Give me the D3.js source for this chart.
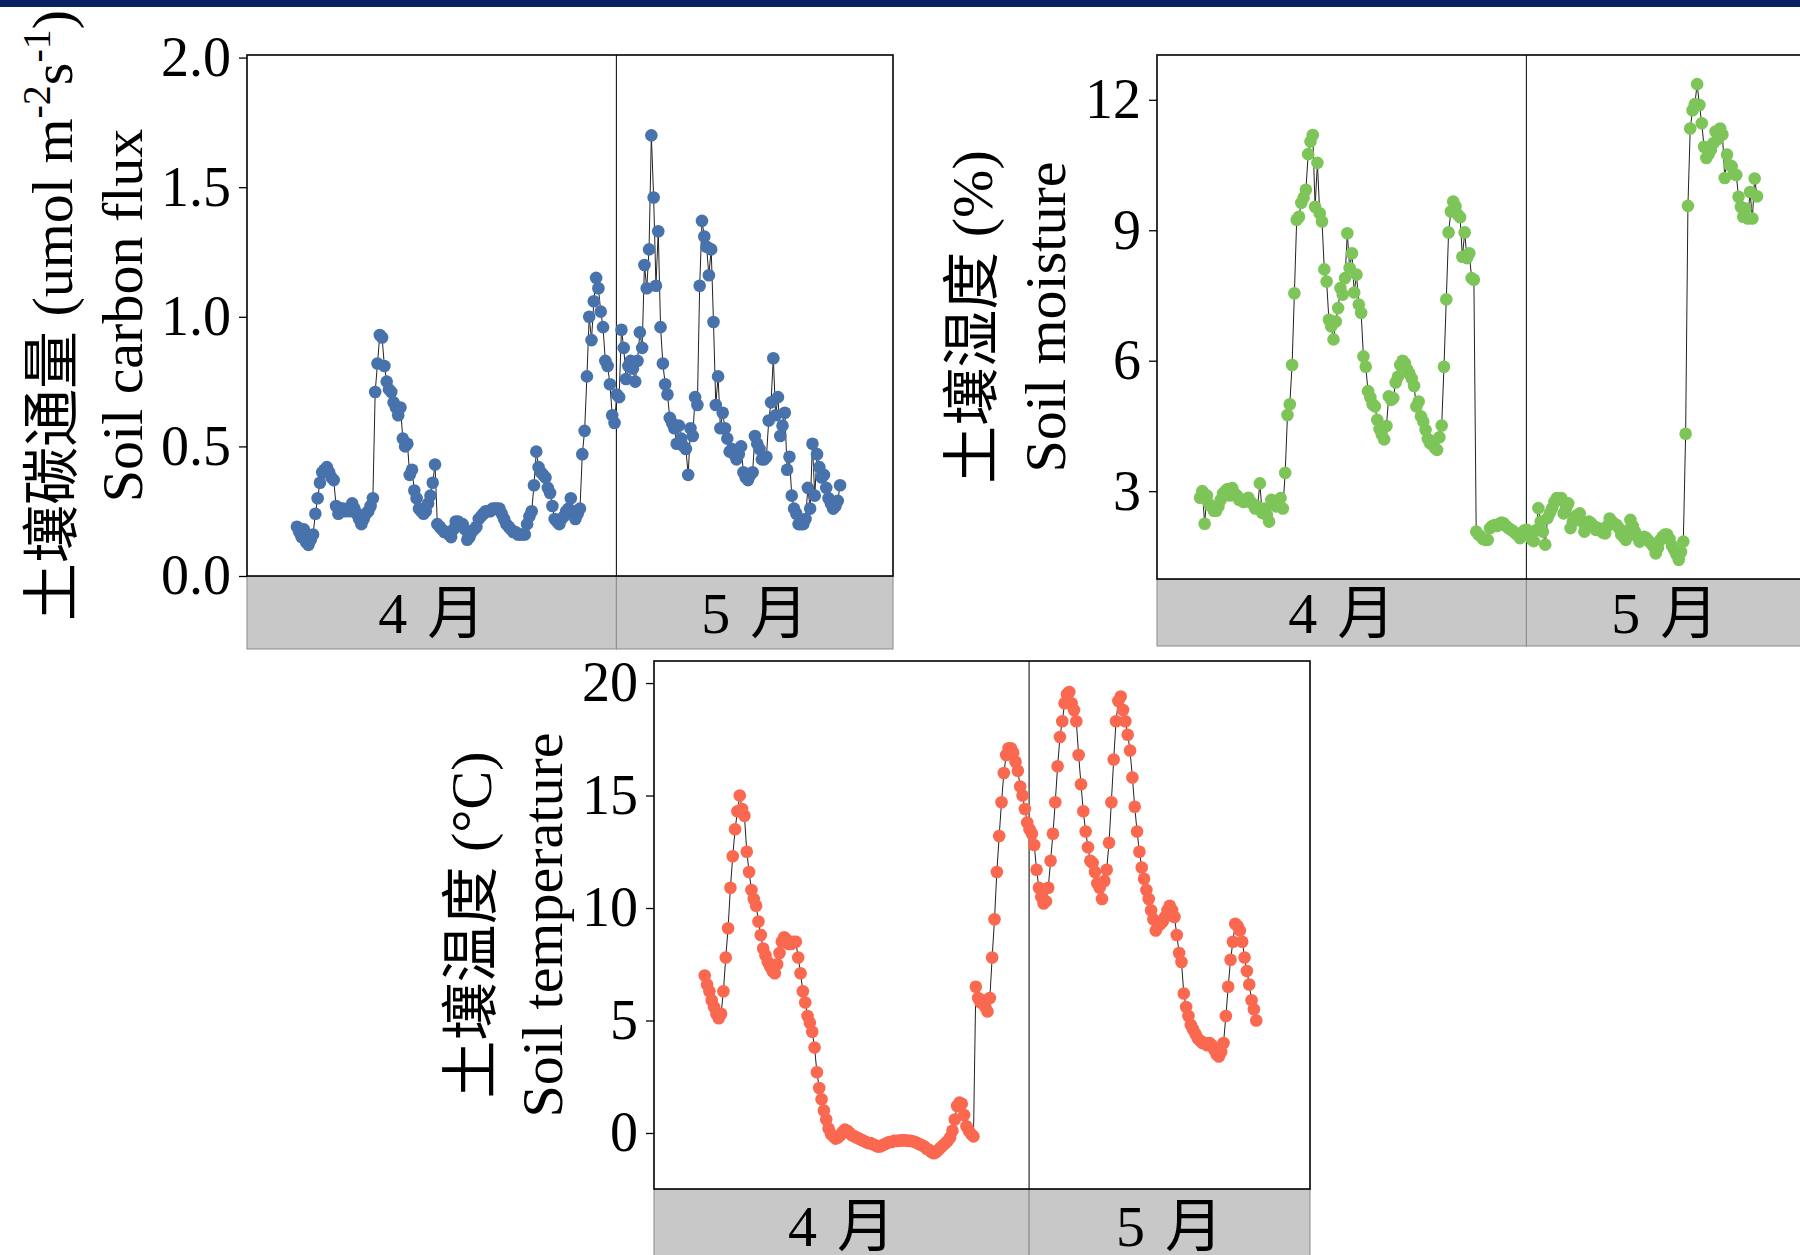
<!DOCTYPE html>
<html>
<head>
<meta charset="utf-8">
<script src="https://cdn.jsdelivr.net/npm/d3@7"></script>
<style>
body { margin: 0; background: #fff; }
svg { display: block; }
text { font-family: "Liberation Serif", "Times New Roman", "Noto Sans CJK SC", serif; fill: #000; }
</style>
</head>
<body>
<div id="chart"></div>
<script>
// samples are every 4 h, index 0 = first flux/temperature reading
const months = ["4", "5"]
const monthUnit = "月"
const monthBreak = 138.8          // 5 月 starts between sample 138 and 139
const xDomain = [-21.7, 259.0]

// 土壤碳通量 Soil carbon flux (umol m-2 s-1), samples 0..236
const flux = [
    0.19, 0.17, 0.15, 0.18, 0.13, 0.12, 0.14, 0.16, 0.24, 0.30,
    0.36, 0.40, 0.41, 0.42, 0.40, 0.38, 0.37, 0.27, 0.24, 0.26,
    0.26, 0.25, 0.26, 0.25, 0.28, 0.26, 0.24, 0.22, 0.20, 0.22,
    0.24, 0.25, 0.27, 0.30, 0.71, 0.82, 0.93, 0.92, 0.81, 0.75,
    0.72, 0.71, 0.67, 0.65, 0.62, 0.65, 0.53, 0.50, 0.51, 0.39,
    0.41, 0.33, 0.30, 0.26, 0.25, 0.24, 0.25, 0.28, 0.31, 0.36,
    0.43, 0.20, 0.19, 0.18, 0.17, 0.17, 0.16, 0.15, 0.18, 0.21,
    0.21, 0.20, 0.20, 0.18, 0.14, 0.15, 0.17, 0.18, 0.19, 0.22,
    0.23, 0.24, 0.25, 0.25, 0.25, 0.26, 0.26, 0.26, 0.26, 0.24,
    0.22, 0.20, 0.19, 0.18, 0.17, 0.17, 0.16, 0.16, 0.16, 0.16,
    0.20, 0.23, 0.25, 0.35, 0.48, 0.42, 0.40, 0.39, 0.38, 0.34,
    0.32, 0.27, 0.22, 0.21, 0.20, 0.22, 0.23, 0.25, 0.26, 0.30,
    0.25, 0.22, 0.24, 0.26, 0.47, 0.56, 0.77, 1.00, 0.91, 1.06,
    1.15, 1.11, 1.02, 0.96, 0.83, 0.81, 0.74, 0.62, 0.59, 0.70,
    0.69, 0.95, 0.88, 0.76, 0.81, 0.83, 0.80, 0.75, 0.83, 0.94,
    0.88, 1.20, 1.11, 1.26, 1.70, 1.46, 1.12, 1.33, 0.96, 0.82,
    0.74, 0.70, 0.61, 0.59, 0.57, 0.51, 0.58, 0.53, 0.50, 0.49,
    0.39, 0.57, 0.54, 0.69, 0.66, 1.12, 1.37, 1.31, 1.27, 1.16,
    1.26, 0.98, 0.66, 0.77, 0.57, 0.63, 0.57, 0.53, 0.48, 0.49,
    0.47, 0.45, 0.47, 0.50, 0.40, 0.38, 0.37, 0.39, 0.40, 0.54,
    0.51, 0.49, 0.45, 0.45, 0.46, 0.60, 0.67, 0.84, 0.62, 0.69,
    0.54, 0.58, 0.63, 0.41, 0.46, 0.31, 0.26, 0.24, 0.20, 0.20,
    0.20, 0.22, 0.34, 0.26, 0.51, 0.31, 0.47, 0.42, 0.38, 0.39,
    0.34, 0.30, 0.28, 0.26, 0.27, 0.29, 0.35
]

// 土壤湿度 Soil moisture (%), samples -3..239
const moistureStart = -3
const moisture = [
    2.85, 3.00, 2.25, 2.90, 2.70, 2.65, 2.55, 2.55, 2.65, 2.80,
    2.95, 3.00, 3.05, 2.90, 3.07, 2.95, 2.90, 2.80, 2.80, 2.75,
    2.80, 2.85, 2.75, 2.70, 2.60, 2.65, 3.18, 2.50, 2.60, 2.45,
    2.30, 2.80, 2.70, 2.65, 2.70, 2.84, 2.60, 3.42, 4.75, 5.00,
    5.90, 7.55, 9.24, 9.31, 9.63, 9.75, 9.93, 10.75, 11.04, 11.19,
    9.54, 10.55, 9.39, 9.20, 8.10, 7.82, 6.94, 6.79, 6.49, 6.90,
    7.21, 7.67, 7.52, 7.90, 8.93, 8.13, 8.47, 7.57, 7.98, 7.29,
    7.10, 6.10, 5.86, 5.30, 5.16, 5.00, 4.95, 4.64, 4.43, 4.30,
    4.19, 4.50, 5.18, 5.10, 5.14, 5.50, 5.63, 5.90, 6.00, 5.94,
    5.80, 5.70, 5.59, 5.42, 4.95, 5.06, 4.72, 4.60, 4.41, 4.20,
    4.10, 4.14, 4.00, 3.95, 4.24, 4.51, 5.86, 7.41, 8.95, 9.43,
    9.66, 9.55, 9.36, 9.30, 8.39, 8.95, 8.36, 8.47, 7.90, 7.86,
    2.07, 2.00, 1.96, 1.90, 1.88, 1.88, 2.15, 2.20, 2.22, 2.20,
    2.25, 2.28, 2.26, 2.20, 2.15, 2.12, 2.08, 2.03, 2.00, 1.92,
    2.05, 2.10, 2.11, 2.00, 1.90, 1.85, 2.10, 2.61, 2.30, 2.07,
    1.77, 2.38, 2.50, 2.61, 2.75, 2.84, 2.80, 2.84, 2.49, 2.60,
    2.72, 2.15, 2.30, 2.41, 2.45, 2.49, 2.30, 2.07, 2.20, 2.30,
    2.26, 2.20, 2.11, 2.15, 2.10, 2.05, 2.03, 2.20, 2.37, 2.30,
    2.25, 2.22, 2.15, 2.00, 1.95, 1.88, 2.10, 2.34, 2.20, 2.07,
    1.95, 1.84, 1.90, 1.95, 1.92, 1.85, 1.80, 1.73, 1.57, 1.70,
    1.88, 1.95, 2.00, 2.00, 1.90, 1.75, 1.65, 1.55, 1.42, 1.60,
    1.84, 4.32, 9.56, 11.34, 11.76, 11.90, 12.36, 11.88, 11.46, 10.92,
    10.66, 10.75, 10.85, 11.00, 11.27, 11.10, 11.34, 11.20, 10.20, 10.74,
    10.50, 10.47, 10.30, 10.27, 9.77, 9.54, 9.31, 9.50, 9.27, 9.88,
    9.27, 10.19, 9.78
]

// 土壤温度 Soil temperature (°C), samples 0..236
const temperature = [
    7.0, 6.6, 6.3, 5.9, 5.6, 5.3, 5.1, 5.3, 6.3, 7.8,
    9.1, 10.9, 12.3, 13.5, 14.3, 15.0, 14.4, 14.1, 12.5, 11.6,
    10.8, 10.4, 10.1, 9.4, 8.8, 8.2, 7.9, 7.6, 7.4, 7.2,
    7.1, 7.5, 8.0, 8.5, 8.7, 8.6, 8.4, 8.4, 8.5, 8.5,
    7.8, 7.1, 6.3, 5.8, 5.2, 4.9, 4.5, 3.8, 2.7, 2.0,
    1.5, 1.0, 0.6, 0.2, -0.05, -0.15, -0.25, -0.2, -0.1, 0.05,
    0.15, 0.1, 0.0, -0.1, -0.15, -0.2, -0.25, -0.3, -0.35, -0.4,
    -0.45, -0.45, -0.5, -0.55, -0.6, -0.6, -0.55, -0.5, -0.45, -0.4,
    -0.4, -0.35, -0.35, -0.35, -0.33, -0.33, -0.33, -0.35, -0.35, -0.37,
    -0.4, -0.45, -0.5, -0.55, -0.6, -0.7, -0.75, -0.85, -0.9, -0.85,
    -0.75, -0.65, -0.55, -0.45, -0.35, -0.2, 0.1, 0.6, 1.2, 1.35,
    1.3, 0.8, 0.3, 0.1, -0.05, -0.15, 6.5, 6.0, 5.8, 5.9,
    5.6, 5.4, 6.0, 7.8, 9.5, 11.6, 13.2, 14.7, 16.0, 16.8,
    17.1, 17.1, 16.9, 16.5, 16.1, 15.4, 15.0, 14.4, 13.8, 13.5,
    13.3, 12.8, 11.7, 10.9, 10.5, 10.2, 10.3, 10.9, 12.1, 13.3,
    14.7, 16.3, 17.6, 18.3, 19.1, 19.5, 19.6, 19.1, 18.8, 18.3,
    16.8, 15.5, 14.3, 13.4, 12.7, 12.1, 12.0, 11.6, 11.1, 10.9,
    10.4, 11.2, 11.7, 12.9, 14.7, 16.6, 18.3, 19.2, 19.4, 18.8,
    18.3, 17.7, 17.0, 15.8, 14.5, 13.4, 12.5, 11.8, 11.3, 10.8,
    10.4, 9.9, 9.5, 9.0, 9.2, 9.3, 9.4, 9.6, 9.9, 10.1,
    9.9, 9.6, 8.8, 8.0, 7.6, 6.2, 5.6, 5.2, 4.8, 4.6,
    4.4, 4.2, 4.1, 4.0, 4.0, 3.9, 4.0, 3.9, 3.7, 3.5,
    3.4, 3.6, 4.0, 5.2, 6.5, 7.7, 8.5, 9.3, 9.2, 9.0,
    8.5, 7.8, 7.2, 6.6, 5.9, 5.5, 5.0
]

const fluxTicks = [0, 0.5, 1.0, 1.5, 2.0]
const moistureTicks = [3, 6, 9, 12]
const temperatureTicks = [0, 5, 10, 15, 20]

const width = 1800
const height = 1255

const svg = d3.select("#chart").append("svg")
    .attr("width", width)
    .attr("height", height)

// dark band along the top edge
svg.append("rect")
    .attr("x", 0).attr("y", 0)
    .attr("width", width).attr("height", 7)
    .attr("fill", "#0b2161")

const panels = [
    {
        values: flux, start: 0, color: "#4872ab",
        left: 247, right: 893, top: 55, bottom: 576, strip: 73,
        yDomain: [0, 2.01], ticks: fluxTicks, fmt: d3.format(".1f"),
        t1: -175, t2: -105,
        title1: [["土壤碳通量 (umol m"], ["-2", true], ["s"], ["-1", true], [")"]],
        title2: "Soil carbon flux"
    },
    {
        values: moisture, start: moistureStart, color: "#7dc558",
        left: 1157, right: 1803, top: 55, bottom: 579, strip: 67,
        yDomain: [0.98, 13.03], ticks: moistureTicks, fmt: d3.format("d"),
        t1: -165, t2: -92,
        title1: [["土壤湿度 (%)"]],
        title2: "Soil moisture"
    },
    {
        values: temperature, start: 0, color: "#fa6850",
        left: 654, right: 1310, top: 661, bottom: 1189, strip: 73,
        yDomain: [-2.49, 20.98], ticks: temperatureTicks, fmt: d3.format("d"),
        t1: -163, t2: -92,
        title1: [["土壤温度 (°C)"]],
        title2: "Soil temperature"
    }
]

panels.forEach(p => {
    const g = svg.append("g")

    const x = d3.scaleLinear().domain(xDomain).range([p.left, p.right])
    const y = d3.scaleLinear().domain(p.yDomain).range([p.bottom, p.top])
    const data = p.values.map((v, k) => ({i: p.start + k, v: v}))

    // month strips under the panel
    const strips = [
        {label: months[0], from: xDomain[0], to: monthBreak},
        {label: months[1], from: monthBreak, to: xDomain[1]}
    ]
    g.selectAll(".strip")
        .data(strips)
        .join("rect")
            .attr("class", "strip")
            .attr("x", d => x(d.from))
            .attr("y", p.bottom)
            .attr("width", d => x(d.to) - x(d.from))
            .attr("height", p.strip)
            .attr("fill", "#c8c8c8")
            .attr("stroke", "#8a8a8a")
            .attr("stroke-width", 1)
    const labels = g.selectAll(".strip-label")
        .data(strips)
        .join("text")
            .attr("class", "strip-label")
            .attr("x", d => (x(d.from) + x(d.to)) / 2)
            .attr("y", p.bottom + p.strip / 2)
            .attr("dy", "0.36em")
            .attr("text-anchor", "middle")
            .style("font-size", "58px")
    labels.append("tspan").text(d => d.label)
    labels.append("tspan").attr("dx", 20).text(monthUnit)

    // panel background and month divider
    g.append("rect")
        .attr("x", p.left).attr("y", p.top)
        .attr("width", p.right - p.left).attr("height", p.bottom - p.top)
        .attr("fill", "white")
    g.append("line")
        .attr("x1", x(monthBreak)).attr("x2", x(monthBreak))
        .attr("y1", p.top).attr("y2", p.bottom)
        .attr("stroke", "black")
        .attr("stroke-width", 1)

    const line = d3.line()
        .x(d => x(d.i))
        .y(d => y(d.v))

    g.append("path")
        .datum(data)
        .attr("d", line)
        .attr("fill", "none")
        .attr("stroke", "#222")
        .attr("stroke-width", 1)

    g.selectAll(".pt")
        .data(data)
        .join("circle")
            .attr("class", "pt")
            .attr("cx", d => x(d.i))
            .attr("cy", d => y(d.v))
            .attr("r", 6.3)
            .attr("fill", p.color)

    // frame
    g.append("rect")
        .attr("x", p.left).attr("y", p.top)
        .attr("width", p.right - p.left).attr("height", p.bottom - p.top)
        .attr("fill", "none")
        .attr("stroke", "black")
        .attr("stroke-width", 1.6)

    const yAx = d3.axisLeft(y)
        .tickValues(p.ticks)
        .tickFormat(p.fmt)
        .tickSize(8)
        .tickPadding(8)

    g.append("g")
        .attr("transform", `translate(${p.left},0)`)
        .call(yAx)
        .call(a => a.select(".domain").remove())
        .call(a => a.selectAll(".tick line").attr("stroke", "black").attr("stroke-width", 1.3))
        .call(a => a.selectAll(".tick text")
            .attr("fill", "black")
            .style("font-size", "56px")
            .style("font-family", "'Liberation Serif', 'Times New Roman', serif"))

    // two-line axis title
    const cy = (p.top + p.bottom) / 2
    const t1 = g.append("text")
        .attr("transform", `translate(${p.left + p.t1},${cy}) rotate(-90)`)
        .attr("text-anchor", "middle")
        .style("font-size", "58px")
    p.title1.forEach(([s, sup]) => {
        const ts = t1.append("tspan").text(s)
        if (sup) ts.attr("baseline-shift", "super").style("font-size", "40px")
    })

    g.append("text")
        .attr("transform", `translate(${p.left + p.t2},${cy}) rotate(-90)`)
        .attr("text-anchor", "middle")
        .style("font-size", "58px")
        .text(p.title2)
})
</script>
</body>
</html>
